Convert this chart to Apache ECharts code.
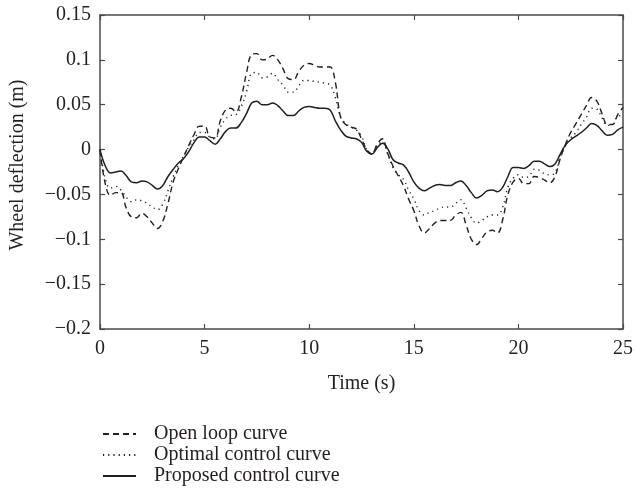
<!DOCTYPE html>
<html>
<head>
<meta charset="utf-8">
<script src="https://cdn.jsdelivr.net/npm/echarts@6/dist/echarts.min.js"></script>
<style>html,body{margin:0;padding:0;background:#fff;}#c{width:636px;height:492px;}</style>
</head>
<body>
<div id="c"></div>
<script>
var times = [0,0.25,0.5,0.75,1,1.25,1.5,1.75,2,2.25,2.5,2.75,3,3.25,3.5,3.75,4,4.25,4.5,4.75,
5,5.25,5.5,5.75,6,6.25,6.5,6.75,7,7.25,7.5,7.75,8,8.25,8.5,8.75,9,9.25,9.5,9.75,
10,10.25,10.5,10.75,11,11.25,11.5,11.75,12,12.25,12.5,12.75,13,13.25,13.5,13.75,14,14.25,14.5,14.75,
15,15.25,15.5,15.75,16,16.25,16.5,16.75,17,17.25,17.5,17.75,18,18.25,18.5,18.75,19,19.25,19.5,19.75,
20,20.25,20.5,20.75,21,21.25,21.5,21.75,22,22.25,22.5,22.75,23,23.25,23.5,23.75,24,24.25,24.5,24.75,25];

var openLoop = [0,-0.038,-0.051,-0.048,-0.048,-0.065,-0.075,-0.076,-0.071,-0.075,-0.082,-0.088,-0.080,-0.060,-0.036,-0.021,-0.008,0.005,0.017,0.026,
0.026,0.014,0.013,0.032,0.044,0.046,0.042,0.058,0.085,0.106,0.107,0.100,0.101,0.105,0.100,0.090,0.079,0.078,0.087,0.094,
0.096,0.094,0.092,0.092,0.092,0.075,0.036,0.028,0.025,0.023,0.012,0.000,-0.005,0.006,0.012,-0.004,-0.018,-0.029,-0.040,-0.055,
-0.068,-0.085,-0.093,-0.088,-0.082,-0.079,-0.079,-0.079,-0.073,-0.070,-0.084,-0.100,-0.106,-0.099,-0.092,-0.090,-0.093,-0.078,-0.050,-0.036,
-0.032,-0.038,-0.038,-0.030,-0.031,-0.034,-0.037,-0.030,-0.010,0.006,0.019,0.029,0.039,0.049,0.058,0.054,0.040,0.028,0.028,0.039,0.047];

var optimal = [0,-0.032,-0.043,-0.041,-0.045,-0.053,-0.058,-0.056,-0.057,-0.060,-0.064,-0.067,-0.061,-0.046,-0.030,-0.017,-0.007,0.003,0.011,0.019,
0.019,0.014,0.012,0.025,0.034,0.038,0.039,0.048,0.064,0.085,0.086,0.080,0.081,0.085,0.078,0.072,0.064,0.064,0.071,0.077,
0.077,0.076,0.075,0.074,0.072,0.058,0.036,0.029,0.025,0.022,0.015,0.000,-0.004,0.004,0.009,-0.005,-0.020,-0.028,-0.033,-0.045,
-0.055,-0.068,-0.073,-0.070,-0.068,-0.065,-0.064,-0.064,-0.060,-0.056,-0.065,-0.076,-0.082,-0.079,-0.075,-0.073,-0.073,-0.064,-0.042,-0.032,
-0.028,-0.031,-0.030,-0.022,-0.023,-0.027,-0.028,-0.026,-0.008,0.004,0.013,0.019,0.028,0.036,0.046,0.045,0.035,0.027,0.028,0.037,0.038];

var proposed = [0,-0.018,-0.026,-0.025,-0.024,-0.029,-0.036,-0.037,-0.035,-0.036,-0.040,-0.044,-0.040,-0.030,-0.022,-0.015,-0.010,-0.002,0.008,0.014,
0.014,0.010,0.006,0.012,0.020,0.024,0.024,0.030,0.040,0.052,0.054,0.050,0.050,0.052,0.049,0.043,0.038,0.038,0.043,0.047,
0.048,0.047,0.046,0.046,0.044,0.032,0.022,0.015,0.013,0.012,0.008,-0.002,-0.005,0.002,0.007,0.001,-0.011,-0.015,-0.017,-0.025,
-0.036,-0.043,-0.046,-0.043,-0.040,-0.039,-0.040,-0.040,-0.037,-0.035,-0.040,-0.048,-0.054,-0.051,-0.046,-0.045,-0.047,-0.042,-0.030,-0.020,
-0.020,-0.021,-0.018,-0.013,-0.013,-0.016,-0.019,-0.016,-0.005,0.005,0.011,0.015,0.019,0.024,0.029,0.027,0.021,0.016,0.017,0.022,0.025];

var seriesNames = ['Open loop curve', 'Optimal control curve', 'Proposed control curve'];
var xTicks = [0, 5, 10, 15, 20, 25];
var xTickLabels = ['0', '5', '10', '15', '20', '25'];
var yTicks = [-0.2, -0.15, -0.1, -0.05, 0, 0.05, 0.1, 0.15];
var yTickLabels = ['\u22120.2', '\u22120.15', '\u22120.1', '\u22120.05', '0', '0.05', '0.1', '0.15'];

function pairs(vals) { return vals.map(function (v, i) { return [times[i], v]; }); }
function xLab(v) { var i = xTicks.indexOf(Math.round(v)); return i >= 0 ? xTickLabels[i] : ''; }
function yLab(v) {
  var best = 0;
  for (var i = 0; i < yTicks.length; i++) if (Math.abs(yTicks[i] - v) < Math.abs(yTicks[best] - v)) best = i;
  return yTickLabels[best];
}

var FONT = 'Liberation Serif';
var FS = 20;
var INK = '#231f20';
var AX = '#4a4a4a';

var chart = echarts.init(document.getElementById('c'), null, { renderer: 'canvas' });
var axisCommon = {
  axisLine: { show: true, onZero: false, lineStyle: { color: AX, width: 1.5 } },
  axisTick: { show: true, inside: true, length: 5, lineStyle: { color: AX, width: 1.2 } },
  splitLine: { show: false }
};
chart.setOption({
  animation: false,
  backgroundColor: '#fff',
  textStyle: { fontFamily: FONT },
  grid: { left: 97, right: 8, top: 15, bottom: 163, containLabel: false },
  legend: {
    orient: 'vertical', left: 97, top: 419, height: 70, itemWidth: 33, itemHeight: 12, itemGap: 1,
    data: seriesNames, selectedMode: false,
    itemStyle: { color: 'transparent', borderWidth: 0, opacity: 0 },
    textStyle: { fontFamily: FONT, fontSize: FS, lineHeight: 20, color: INK, padding: [0, 0, 0, 13] }
  },
  xAxis: [
    Object.assign({
      type: 'value', min: 0, max: 25, interval: 5, position: 'bottom',
      name: 'Time (s)', nameLocation: 'middle', nameGap: 45,
      nameTextStyle: { fontFamily: FONT, fontSize: FS, color: INK },
      axisLabel: { margin: 10, fontFamily: FONT, fontSize: FS, color: INK, formatter: xLab }
    }, axisCommon),
    Object.assign({
      type: 'value', min: 0, max: 25, interval: 5, position: 'top',
      axisLabel: { show: false }
    }, axisCommon)
  ],
  yAxis: [
    Object.assign({
      type: 'value', min: -0.2, max: 0.15, interval: 0.05, position: 'left',
      name: 'Wheel deflection (m)', nameLocation: 'middle', nameGap: 72,
      nameTextStyle: { fontFamily: FONT, fontSize: FS, color: INK, padding: [0, 0, 0, 14] },
      axisLabel: { margin: 9, fontFamily: FONT, fontSize: FS, color: INK, formatter: yLab }
    }, axisCommon),
    Object.assign({
      type: 'value', min: -0.2, max: 0.15, interval: 0.05, position: 'right',
      axisLabel: { show: false }
    }, axisCommon)
  ],
  series: [
    { name: seriesNames[0], type: 'line', data: pairs(openLoop), showSymbol: false, symbol: 'none', smooth: 0.4,
      lineStyle: { color: INK, width: 1.4, type: [6, 4] }, itemStyle: { color: INK } },
    { name: seriesNames[1], type: 'line', data: pairs(optimal), showSymbol: false, symbol: 'none', smooth: 0.4,
      lineStyle: { color: INK, width: 1.4, type: [1.2, 4] }, itemStyle: { color: INK } },
    { name: seriesNames[2], type: 'line', data: pairs(proposed), showSymbol: false, symbol: 'none', smooth: 0.4,
      lineStyle: { color: INK, width: 1.5, type: 'solid' }, itemStyle: { color: INK } }
  ]
});
</script>
</body>
</html>
